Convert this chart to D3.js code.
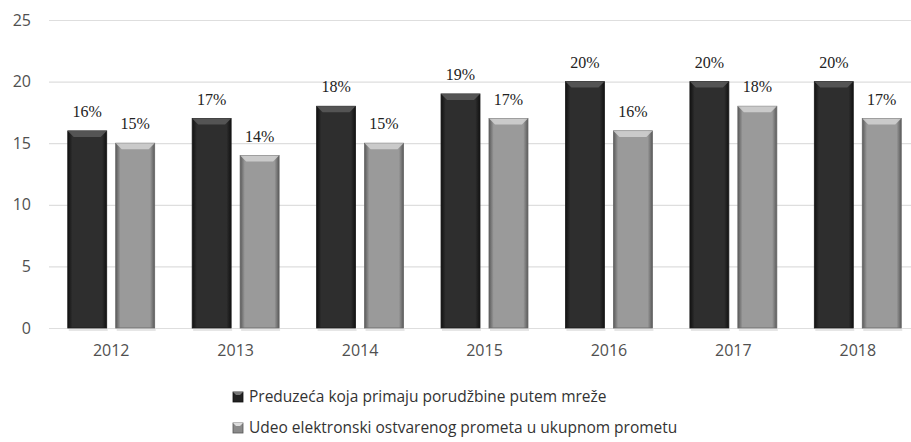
<!DOCTYPE html>
<html>
<head>
<meta charset="utf-8">
<script src="https://cdn.jsdelivr.net/npm/d3@7"></script>
<style>
  body { margin: 0; background: #fff; }
  svg { display: block; }
</style>
</head>
<body>
<div id="chart"></div>
<script>
// data
var years = ["2012", "2013", "2014", "2015", "2016", "2017", "2018"]
var seriesNames = ["Preduzeća koja primaju porudžbine putem mreže",
                   "Udeo elektronski ostvarenog prometa u ukupnom prometu"]
var ordersValues = [16, 17, 18, 19, 20, 20, 20]
var turnoverValues = [15, 14, 15, 17, 16, 18, 17]
var yTicks = [0, 5, 10, 15, 20, 25]

var width = 911, height = 442

var svg = d3.select("#chart").append("svg")
    .attr("width", width)
    .attr("height", height)

var defs = svg.append("defs")

// bevel-ish look: darker edges, lighter middle
function barGradient(id, edge, mid) {
    var g = defs.append("linearGradient").attr("id", id)
        .attr("x1", "0%").attr("x2", "100%").attr("y1", "0%").attr("y2", "0%")
    g.append("stop").attr("offset", "0%").attr("stop-color", edge)
    g.append("stop").attr("offset", "12%").attr("stop-color", mid)
    g.append("stop").attr("offset", "88%").attr("stop-color", mid)
    g.append("stop").attr("offset", "100%").attr("stop-color", edge)
}
barGradient("g0", "#111", "#2e2e2e")
barGradient("g1", "#5a5a5a", "#9a9a9a")

var styles = [
    { fill: "url(#g0)", top: "#5e5e5e", stroke: "#1a1a1a" },
    { fill: "url(#g1)", top: "#d6d6d6", stroke: "#666" }
]

var x0 = d3.scaleBand().domain(years).range([49, 920])
var x1 = d3.scaleBand().domain([0, 1])
    .range([18.75, x0.bandwidth() - 18.75])
    .paddingInner(0.1875)
var y = d3.scaleLinear().domain([0, 25]).range([328, 20])

// gridlines
svg.append("g").selectAll("line")
    .data(yTicks)
    .enter().append("line")
    .attr("x1", 49).attr("x2", width)
    .attr("y1", function(d) { return y(d) + 0.5 })
    .attr("y2", function(d) { return y(d) + 0.5 })
    .attr("stroke", "#dedede")
    .attr("stroke-width", 1.2)

// y axis labels
var yAxis = d3.axisLeft(y).tickValues(yTicks).tickSize(0).tickPadding(0)
svg.append("g")
    .attr("transform", "translate(31,0)")
    .call(yAxis)
    .call(function(g) { g.select(".domain").remove() })
    .selectAll("text")
    .attr("font-family", "'Open Sans', sans-serif")
    .attr("font-size", 16)
    .attr("fill", "#505050")

// x axis labels
var xAxis = d3.axisBottom(x0).tickSize(0).tickPadding(0)
svg.append("g")
    .attr("transform", "translate(0,345)")
    .call(xAxis)
    .call(function(g) { g.select(".domain").remove() })
    .selectAll("text")
    .attr("font-family", "'Open Sans', sans-serif")
    .attr("font-size", 16)
    .attr("fill", "#505050")

var rows = years.map(function(yr, i) {
    return { year: yr, vals: [ordersValues[i], turnoverValues[i]] }
})

var groups = svg.append("g").selectAll("g")
    .data(rows)
    .enter().append("g")
    .attr("transform", function(d) { return "translate(" + x0(d.year) + ",0)" })

var bars = groups.selectAll("g.bar")
    .data(function(d) { return d.vals.map(function(v, s) { return { v: v, s: s } }) })
    .enter().append("g")
    .attr("class", "bar")

var bw = x1.bandwidth()

// soft shadow under bar
bars.append("rect")
    .attr("x", function(d) { return x1(d.s) + 1 })
    .attr("y", y(0))
    .attr("width", bw)
    .attr("height", 3)
    .attr("fill", "#e6e6e6")

bars.append("rect")
    .attr("x", function(d) { return x1(d.s) })
    .attr("y", function(d) { return y(d.v) })
    .attr("width", bw)
    .attr("height", function(d) { return y(0) - y(d.v) })
    .attr("fill", function(d) { return styles[d.s].fill })
    .attr("stroke", function(d) { return styles[d.s].stroke })
    .attr("stroke-width", 0.8)

// top bevel
bars.append("path")
    .attr("d", function(d) {
        var l = x1(d.s), r = l + bw, t = y(d.v)
        return "M" + l + "," + t + "L" + r + "," + t + "L" + (r - 6) + "," + (t + 6) +
            "L" + (l + 6) + "," + (t + 6) + "Z"
    })
    .attr("fill", function(d) { return styles[d.s].top })
    .attr("opacity", 0.8)

// value labels
bars.append("text")
    .attr("x", function(d) { return x1(d.s) + bw / 2 })
    .attr("y", function(d) { return y(d.v) - 14 })
    .attr("text-anchor", "middle")
    .attr("font-family", "'Liberation Serif', serif")
    .attr("font-size", 16)
    .attr("fill", "#222")
    .text(function(d) { return d.v + "%" })

// legend
var legend = svg.append("g").selectAll("g")
    .data(seriesNames)
    .enter().append("g")
    .attr("transform", function(d, i) { return "translate(233," + (397 + i * 31) + ")" })

legend.append("rect")
    .attr("x", 0).attr("y", -5)
    .attr("width", 10).attr("height", 10)
    .attr("fill", function(d, i) { return i === 0 ? "#222" : "#8a8a8a" })
    .attr("stroke", function(d, i) { return i === 0 ? "#111" : "#555" })
    .attr("stroke-width", 0.8)
legend.append("path")
    .attr("d", "M0,-5L10,-5L7,-2L3,-2Z")
    .attr("fill", function(d, i) { return i === 0 ? "#777" : "#ddd" })

legend.append("text")
    .attr("x", 16)
    .attr("y", 0)
    .attr("dy", "0.35em")
    .attr("font-family", "'Open Sans', sans-serif")
    .attr("font-size", 15.5)
    .attr("fill", "#333")
    .text(function(d) { return d })
</script>
</body>
</html>
